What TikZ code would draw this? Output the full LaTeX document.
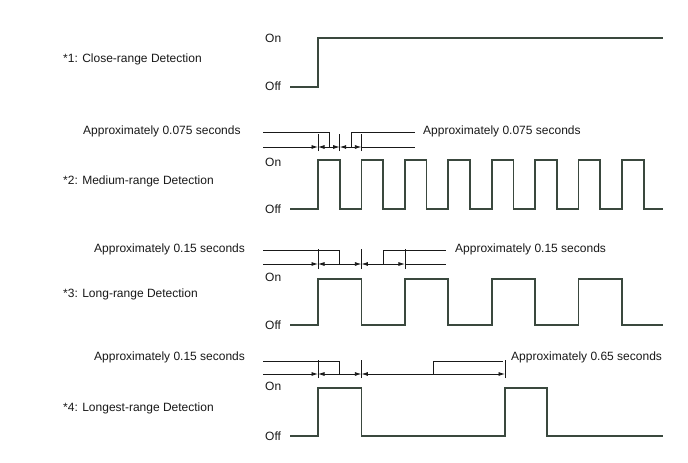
\documentclass[tikz,border=0pt]{standalone}
\usepackage{fontspec}
\setmainfont{Liberation Sans}
\usetikzlibrary{arrows.meta}
\definecolor{wavec}{RGB}{58,72,62}
\begin{document}
\begin{tikzpicture}[x=1pt,y=-1pt,
  txt/.style={font=\fontsize{12}{14}\selectfont, inner sep=0pt, anchor=west, text=black!90},
  wave/.style={draw=wavec, line width=1.6pt, line join=miter},
  dim/.style={draw=black!90, line width=0.8pt},
  tip/.style={-{Latex[length=6.5pt,width=4pt]}},
  tips/.style={{Latex[length=6.5pt,width=4pt]}-{Latex[length=6.5pt,width=4pt]}}]
\useasboundingbox (0,0) rectangle (688,463);
\fill[white] (0,0) rectangle (688,463);

% ---------- 1 ----------
\node[txt] (l1) at (63,59) {*1: Close-range Detection};
\node[txt] (on1) at (265,38) {On};
\node[txt] (off1) at (265,86) {Off};
\draw[wave] (290,87) -- (318,87) -- (318,38) -- (663,38);

% ---------- 2 ----------
\node[txt] (l2) at (63,181) {*2: Medium-range Detection};
\node[txt] (on2) at (265,162) {On};
\node[txt] (off2) at (265,209) {Off};
\node[txt] (a2l) at (83,131) {Approximately 0.075 seconds};
\node[txt] (a2r) at (423,131) {Approximately 0.075 seconds};
\draw[wave] (290,209)
  foreach \k in {0,...,7} { -- ({318+43.43*\k},209) -- ({318+43.43*\k},160)
     -- ({339.7+43.43*\k},160) -- ({339.7+43.43*\k},209) } -- (663,209);
\coordinate (t2a) at (318,147);
\coordinate (t2b) at (339.7,147);
\coordinate (t2c) at (361.4,147);
\foreach \c in {t2a,t2b,t2c} \draw[dim] ([yshift=-4pt]\c) -- ([yshift=13pt]\c);
\draw[dim,tip] (263,147) -- (t2a);
\draw[dim,tips] (t2a) -- (t2b);
\draw[dim,tips] (t2b) -- (t2c);
\draw[dim] (t2c) -- (415,147);
\draw[dim] (263,132) -- (329,132) -- (329,147);
\draw[dim] (351,147) -- (351,132) -- (415,132);

% ---------- 3 ----------
\node[txt] (l3) at (63,294) {*3: Long-range Detection};
\node[txt] (on3) at (265,277) {On};
\node[txt] (off3) at (265,325) {Off};
\node[txt] (a3l) at (94,249) {Approximately 0.15 seconds};
\node[txt] (a3r) at (455,249) {Approximately 0.15 seconds};
\draw[wave] (290,325)
  foreach \k in {0,...,3} { -- ({318+86.86*\k},325) -- ({318+86.86*\k},279)
     -- ({361.4+86.86*\k},279) -- ({361.4+86.86*\k},325) } -- (663,325);
\coordinate (t3a) at (318,264);
\coordinate (t3b) at (361.4,264);
\coordinate (t3c) at (404.9,264);
\foreach \c in {t3a,t3b,t3c} \draw[dim] ([yshift=-5pt]\c) -- ([yshift=15pt]\c);
\draw[dim,tip] (263,264) -- (t3a);
\draw[dim,tips] (t3a) -- (t3b);
\draw[dim,tips] (t3b) -- (t3c);
\draw[dim] (t3c) -- (446,264);
\draw[dim] (263,250) -- (339,250) -- (339,264);
\draw[dim] (383,264) -- (383,250) -- (446,250);

% ---------- 4 ----------
\node[txt] (l4) at (63,408) {*4: Longest-range Detection};
\node[txt] (on4) at (265,386) {On};
\node[txt] (off4) at (265,436) {Off};
\node[txt] (a4l) at (94,357) {Approximately 0.15 seconds};
\node[txt] (a4r) at (511,357) {Approximately 0.65 seconds};
\draw[wave] (290,436) -- (318,436) -- (318,388) -- (361.4,388) -- (361.4,436)
  -- (505,436) -- (505,388) -- (547,388) -- (547,436) -- (663,436);
\coordinate (t4a) at (318,374);
\coordinate (t4b) at (361.4,374);
\coordinate (t4c) at (505,374);
\foreach \c in {t4a,t4b,t4c} \draw[dim] ([yshift=-4pt]\c) -- ([yshift=14pt]\c);
\draw[dim,tip] (263,374) -- (t4a);
\draw[dim,tips] (t4a) -- (t4b);
\draw[dim,tips] (t4b) -- (t4c);
\draw[dim] (263,361) -- (339,361) -- (339,374);
\draw[dim] (433,374) -- (433,361) -- (503,361);
\end{tikzpicture}
\end{document}
